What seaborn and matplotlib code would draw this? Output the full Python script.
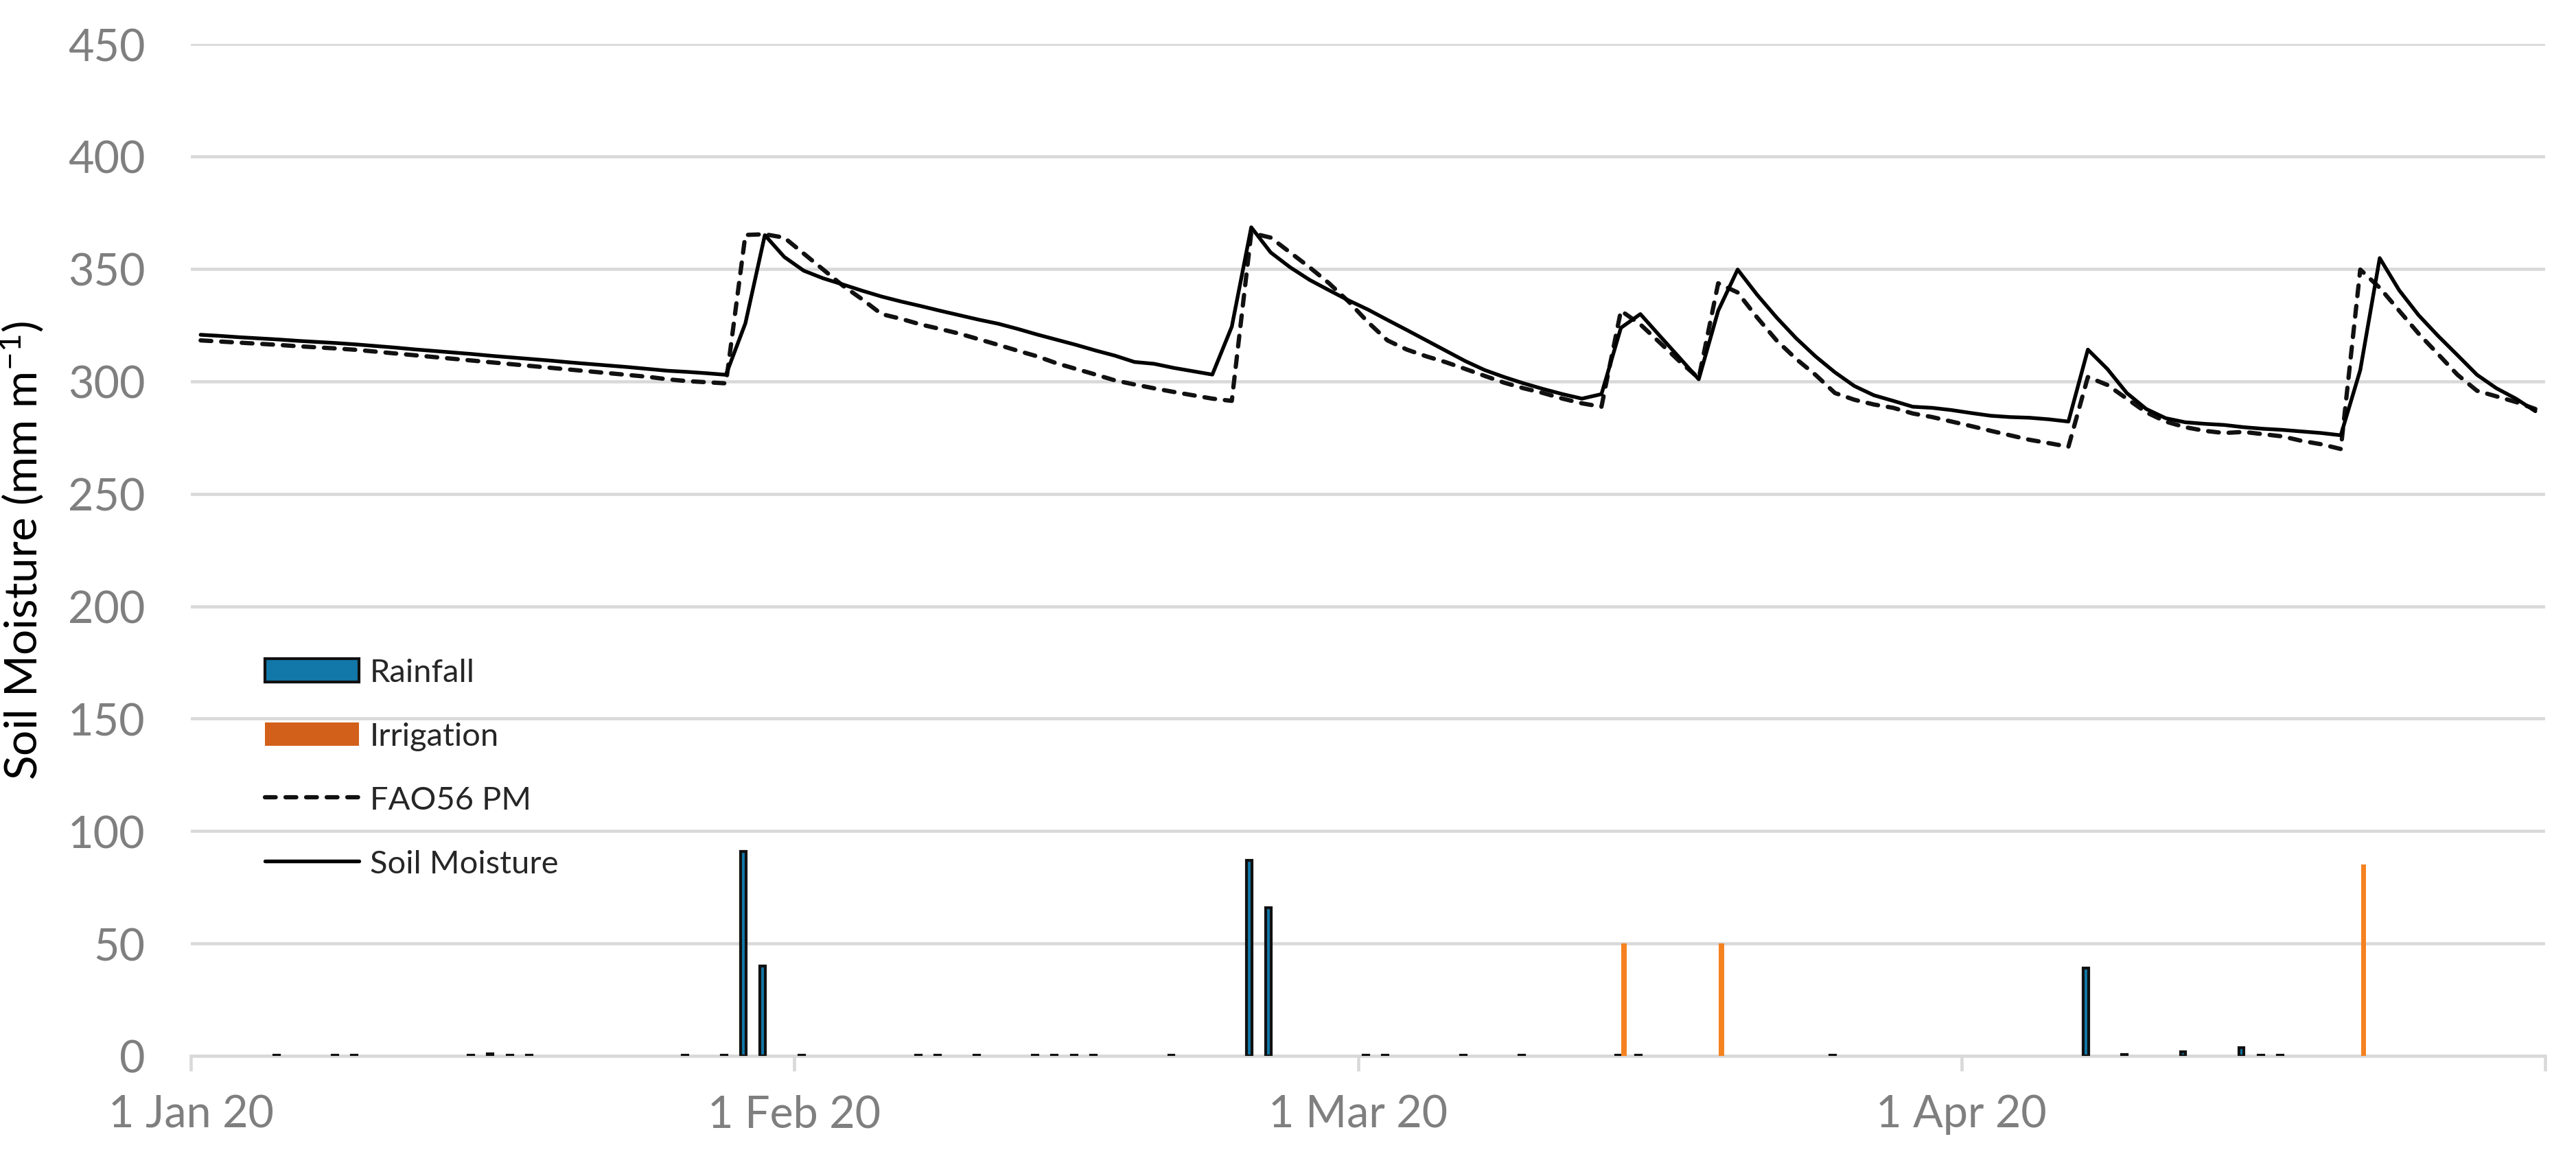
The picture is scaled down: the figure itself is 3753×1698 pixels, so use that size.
import pandas as pd
import seaborn as sns
import matplotlib.pyplot as plt
from matplotlib.patches import Patch
from matplotlib.lines import Line2D

# daily series, 1 Jan 2020 - 30 Apr 2020
start_date = '2020-01-01'
n_days = 121

soil_moisture = [
    320.7, 320.2, 319.6, 319.1, 318.6, 318.0, 317.5, 317.0, 316.4,
    315.7, 315.0, 314.2, 313.5, 312.8, 312.1, 311.3, 310.6, 309.9, 309.2, 308.4, 307.7, 307.0, 306.3, 305.5,
    304.7, 304.2, 303.6, 302.9,
    325.8, 365.0, 355.3, 349.2, 345.8, 343.1, 340.3, 337.7, 335.5, 333.5, 331.4, 329.4, 327.4, 325.6,
    323.3, 320.8, 318.5, 316.2, 313.7, 311.4, 308.6,
    307.8, 306.0, 304.5, 303.0, 324.3, 368.5, 357.3, 350.7, 345.1, 340.5, 336.0, 331.9, 327.3, 322.8,
    318.2, 313.6, 309.0, 305.0, 301.9, 299.1, 296.6, 294.3, 292.3, 294.3,
    323.8, 329.9, 320.2, 310.6, 300.9, 331.4, 349.7, 338.5, 328.4, 319.2, 311.1, 304.0, 297.9, 293.8,
    291.3, 288.7, 288.2, 287.2, 285.9, 284.7, 284.1, 283.8, 283.1, 282.1,
    314.1, 305.5, 294.8, 287.7, 283.6, 281.8, 281.1, 280.6, 279.6, 278.9, 278.4, 277.7, 277.0, 276.0,
    305.0, 354.8, 340.5, 329.4, 320.2, 311.6, 302.9, 296.9, 292.3, 286.7,
]

fao56_pm = [
    318.2, 317.7, 317.2, 316.7, 316.2, 315.6, 315.1, 314.6, 314.0, 313.2, 312.4, 311.6, 310.8, 310.0,
    309.2, 308.4, 307.6, 306.8, 306.0, 305.2, 304.4, 303.6, 302.8, 302.0,
    300.9, 300.1, 299.6, 299.1,
    365.1, 365.4, 363.9, 356.8, 349.7, 342.6, 336.5, 329.9, 327.8, 325.3, 323.3, 321.2, 318.7, 316.2,
    313.6, 311.1, 308.0, 305.5, 303.0, 300.4, 298.6,
    296.9, 295.3, 293.8, 292.3, 291.3, 366.0, 363.9, 357.3, 350.7, 343.6, 335.5, 326.3, 318.2, 314.1,
    311.1, 308.5, 305.5, 302.4, 299.4, 296.9, 294.8, 292.3, 290.2, 288.7,
    331.4, 325.3, 317.2, 309.0, 301.4, 343.6, 339.5, 328.4, 318.2, 310.0, 302.9, 294.8, 291.8, 289.7,
    288.2, 285.7, 284.1, 282.1, 280.1, 278.0, 276.0, 274.0, 272.5, 270.9,
    301.9, 298.4, 292.3, 286.2, 282.1, 279.6, 278.0, 277.0, 277.5, 276.5, 275.5, 273.5, 272.0, 269.9,
    349.7, 341.6, 331.4, 321.2, 312.1, 302.9, 295.8, 293.3, 290.8, 287.7,
]

rain_dates = ['2020-01-05', '2020-01-08', '2020-01-09', '2020-01-15', '2020-01-16', '2020-01-17',
              '2020-01-18', '2020-01-26', '2020-01-28', '2020-01-29', '2020-01-30', '2020-02-01',
              '2020-02-07', '2020-02-08', '2020-02-10', '2020-02-13', '2020-02-14', '2020-02-15',
              '2020-02-16', '2020-02-20', '2020-02-24', '2020-02-25', '2020-03-01', '2020-03-02',
              '2020-03-06', '2020-03-09', '2020-03-14', '2020-03-15', '2020-03-25', '2020-04-07',
              '2020-04-09', '2020-04-12', '2020-04-15', '2020-04-16', '2020-04-17']
rain_mm = [0.3, 0.3, 0.3, 0.3, 0.8, 0.3,
           0.3, 0.3, 0.3, 91, 40, 0.3,
           0.3, 0.3, 0.3, 0.3, 0.3, 0.3,
           0.3, 0.3, 87, 66, 0.3, 0.3,
           0.3, 0.3, 0.3, 0.3, 0.3, 39,
           0.6, 1.8, 3.6, 0.3, 0.3]

irr_dates = ['2020-03-14', '2020-03-19', '2020-04-21']
irr_mm = [50, 50, 85]

tick_dates = ['2020-01-01', '2020-02-01', '2020-03-01', '2020-04-01', '2020-05-01']
tick_labels = ['1 Jan 20', '1 Feb 20', '1 Mar 20', '1 Apr 20', '']

sns.set_style('white')
plt.rcParams['font.family'] = ['Lato', 'DejaVu Sans']
plt.rcParams['mathtext.fontset'] = 'custom'
plt.rcParams['mathtext.rm'] = 'Lato'
plt.rcParams['mathtext.it'] = 'Lato:italic'

grid_col = '#D9D9D9'
text_col = '#7F7F7F'
rain_col = '#1178A9'
irr_col = '#F58220'

# each day sits in the middle of its slot, like the spreadsheet date axis
days = pd.date_range(start_date, periods=n_days) + pd.Timedelta(hours=12)
df = pd.DataFrame({'date': days, 'soil': soil_moisture, 'fao': fao56_pm})

fig = plt.figure(figsize=(12.51, 5.663), dpi=300)
ax = fig.add_axes([0.0741, 0.0936, 0.9139, 0.8681])

ax.bar(pd.to_datetime(rain_dates) + pd.Timedelta(hours=9.4), rain_mm, width=0.28,
       color=rain_col, edgecolor='#111111', linewidth=1.0, zorder=3)
ax.bar(pd.to_datetime(irr_dates) + pd.Timedelta(hours=16.1), irr_mm, width=0.28,
       color=irr_col, linewidth=0, zorder=3)

sns.lineplot(data=df, x='date', y='fao', ax=ax, color='#111111', linewidth=1.5,
             linestyle=(0, (2.5, 2.3)), dash_capstyle='round', zorder=4)
sns.lineplot(data=df, x='date', y='soil', ax=ax, color='black', linewidth=1.3, zorder=5)

ax.set_ylim(0, 450)
ax.set_yticks(range(0, 451, 50))
ax.set_xlim(pd.Timestamp('2020-01-01'), pd.Timestamp('2020-05-01'))
ax.set_xticks(pd.to_datetime(tick_dates))
ax.set_xticklabels(tick_labels)

ax.yaxis.grid(True, color=grid_col, linewidth=1.1)
ax.xaxis.grid(False)
ax.set_axisbelow(True)
for side in ['left', 'top', 'right']:
    ax.spines[side].set_visible(False)
ax.spines['bottom'].set_color(grid_col)
ax.spines['bottom'].set_linewidth(1.1)
ax.spines['bottom'].set_zorder(2)

ax.tick_params(axis='x', colors=grid_col, labelcolor=text_col, length=5.3, width=1.1,
               labelsize=15.5, pad=8, direction='out', bottom=True)
ax.tick_params(axis='y', length=0, labelcolor=text_col, labelsize=15.5, pad=16)

ax.set_xlabel('')
ax.set_ylabel('Soil Moisture (mm m$^{-1}$)', fontsize=15.8, color='black')
ax.yaxis.set_label_coords(-0.0615, 0.5)

handles = [
    Patch(facecolor=rain_col, edgecolor='#111111', linewidth=1.0, label='Rainfall'),
    Patch(facecolor='#D2601A', linewidth=0, label='Irrigation'),
    Line2D([], [], color='#111111', linewidth=1.5, linestyle=(0, (2.5, 2.3)),
           dash_capstyle='round', label='FAO56 PM'),
    Line2D([], [], color='black', linewidth=1.3, label='Soil Moisture'),
]
ax.legend(handles=handles, loc='upper left', bbox_to_anchor=(0.0315, 0.393), frameon=False,
          fontsize=11.3, handlelength=2.9, handleheight=0.75, handletextpad=0.35,
          labelspacing=1.08, borderpad=0, borderaxespad=0)

plt.savefig('out.png', dpi=300)
